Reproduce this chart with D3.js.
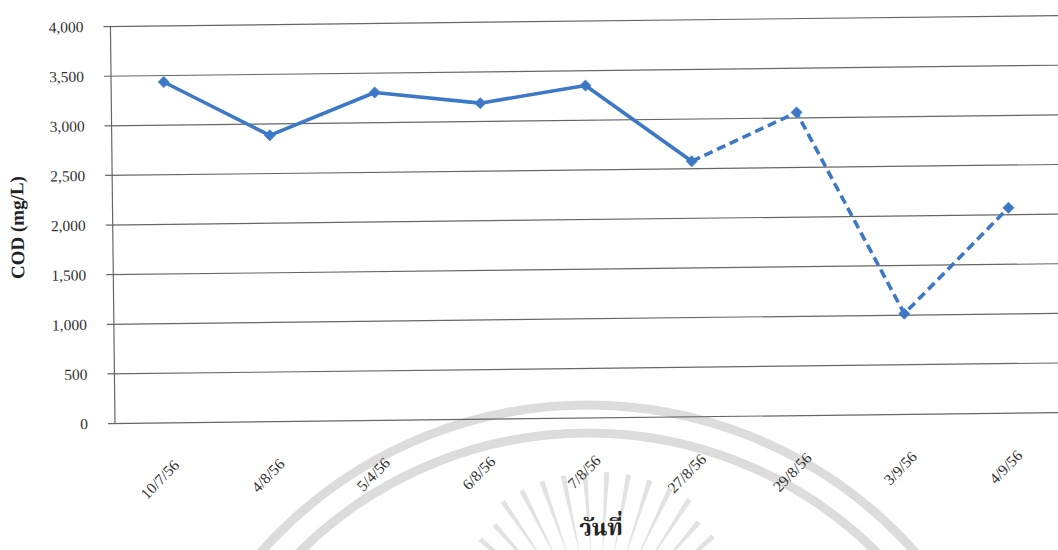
<!DOCTYPE html>
<html>
<head>
<meta charset="utf-8">
<script src="https://cdn.jsdelivr.net/npm/d3@7"></script>
<style>
  html, body { margin: 0; padding: 0; background: #ffffff; }
  svg { display: block; }
  text { font-family: "Liberation Serif", "Times New Roman", serif; }
</style>
</head>
<body>
<svg id="chart" width="1058" height="550"></svg>
<script>
// Sampling dates (Thai Buddhist-era short dates)
const dates = ["10/7/56", "4/8/56", "5/4/56", "6/8/56", "7/8/56", "27/8/56", "29/8/56", "3/9/56", "4/9/56"];
// COD concentration, mg/L
const codValues = [3430, 2880, 3300, 3180, 3345, 2570, 3050, 1010, 2065];
// Index from which the series is drawn dashed
const dashedFrom = 5;
// Value-axis ticks
const yTicks = [0, 500, 1000, 1500, 2000, 2500, 3000, 3500, 4000];
const yTitle = "COD (mg/L)";
const xTitle = "วันที่";

const svg = d3.select("#chart");
const W = 1058, H = 550;
const plot = { left: 115, right: 1063.6, top: 26, bottom: 423 };

svg.append("rect").attr("width", W).attr("height", H).attr("fill", "#ffffff");

// Faint emblem printed behind the figure
const wm = svg.append("g").attr("fill", "none").attr("stroke", "#dcdcdc");
const wmCx = 588, wmCy = 842;
[437, 409].forEach(r => {
  wm.append("circle").attr("cx", wmCx).attr("cy", wmCy).attr("r", r).attr("stroke-width", 9);
});
const rayC = [598, 640];
d3.range(-162, -15, 7.5).forEach(a => {
  const t = a * Math.PI / 180;
  const r0 = 80, r1 = (Math.abs(a + 90) < 35) ? 168 : 155;
  const ux = Math.cos(t), uy = Math.sin(t), px = -uy, py = ux;
  const w = 2.6;
  // tapered spike: wide at the outer end, pointed at the inner end
  const p = [
    [rayC[0] + r0 * ux, rayC[1] + r0 * uy],
    [rayC[0] + r1 * ux + w * px, rayC[1] + r1 * uy + w * py],
    [rayC[0] + r1 * ux - w * px, rayC[1] + r1 * uy - w * py]
  ];
  wm.append("path")
    .attr("d", "M" + p.map(q => q.join(",")).join("L") + "Z")
    .attr("fill", "#e2e2e2").attr("stroke", "none");
});

// The whole figure sits very slightly tilted on the page
const g = svg.append("g").attr("transform", `rotate(-0.66, ${plot.left}, ${plot.bottom})`);

const x = d3.scaleBand().domain(dates).range([plot.left, plot.right]).paddingInner(0).paddingOuter(0);
const cx = d => x(d) + x.bandwidth() / 2;
const y = d3.scaleLinear().domain([0, 4000]).range([plot.bottom, plot.top]);

// Horizontal gridlines with outside tick marks
const yAxis = d3.axisLeft(y).tickValues(yTicks).tickSize(plot.right - plot.left + 7)
  .tickFormat(d3.format(","));
const yG = g.append("g").attr("transform", `translate(${plot.right},0)`).call(yAxis);
yG.select(".domain").remove();
yG.selectAll(".tick line").attr("stroke", "#666666").attr("stroke-width", 1.2);
yG.selectAll(".tick text")
  .attr("x", -(plot.right - 88))
  .attr("dy", "0.35em")
  .attr("font-size", 15.5)
  .attr("fill", "#333333")
  .attr("text-anchor", "end");

// Vertical value-axis line
g.append("line")
  .attr("x1", plot.left).attr("x2", plot.left)
  .attr("y1", plot.top).attr("y2", plot.bottom)
  .attr("stroke", "#666666").attr("stroke-width", 1.2);

// Category labels, slanted
const xAxis = d3.axisBottom(x).tickSize(0);
const xG = g.append("g").attr("transform", `translate(0,${plot.bottom})`).call(xAxis);
xG.select(".domain").remove();
xG.selectAll(".tick text")
  .attr("font-size", 15.5)
  .attr("fill", "#333333")
  .attr("text-anchor", "end")
  .attr("y", 0).attr("dy", 0)
  .attr("transform", "translate(12,44) rotate(-45)");

// Series line: solid part then dashed part
const pts = dates.map((d, i) => ({ d, v: codValues[i], i }));
const line = d3.line().x(p => cx(p.d)).y(p => y(p.v));
const color = "#3c78c6";
g.append("path")
  .datum(pts.filter(p => p.i <= dashedFrom))
  .attr("d", line).attr("fill", "none")
  .attr("stroke", color).attr("stroke-width", 3.6).attr("stroke-linejoin", "round");
g.append("path")
  .datum(pts.filter(p => p.i >= dashedFrom))
  .attr("d", line).attr("fill", "none")
  .attr("stroke", color).attr("stroke-width", 3.6)
  .attr("stroke-dasharray", "9,5").attr("stroke-linejoin", "round");

// Diamond markers (square turned 45 degrees)
const half = 5.5;
g.selectAll(".mk").data(pts).join("path")
  .attr("class", "mk")
  .attr("d", `M0,${-half}L${half},0L0,${half}L${-half},0Z`)
  .attr("transform", p => `translate(${cx(p.d)},${y(p.v)})`)
  .attr("fill", color).attr("stroke", color).attr("stroke-width", 0.8);

// Axis titles
g.append("text")
  .attr("transform", `translate(26,${(plot.top + plot.bottom) / 2 + 2}) rotate(-90)`)
  .attr("text-anchor", "middle")
  .attr("font-size", 19).attr("font-weight", "bold").attr("fill", "#222")
  .text(yTitle);

g.append("text")
  .attr("x", 600).attr("y", 541)
  .attr("text-anchor", "middle")
  .attr("font-size", 23).attr("font-weight", "bold").attr("fill", "#222")
  .style("font-family", "'Noto Serif Thai','Noto Sans Thai','Tlwg Typo','Loma','Garuda','Liberation Serif',serif")
  .text(xTitle);
</script>
</body>
</html>
